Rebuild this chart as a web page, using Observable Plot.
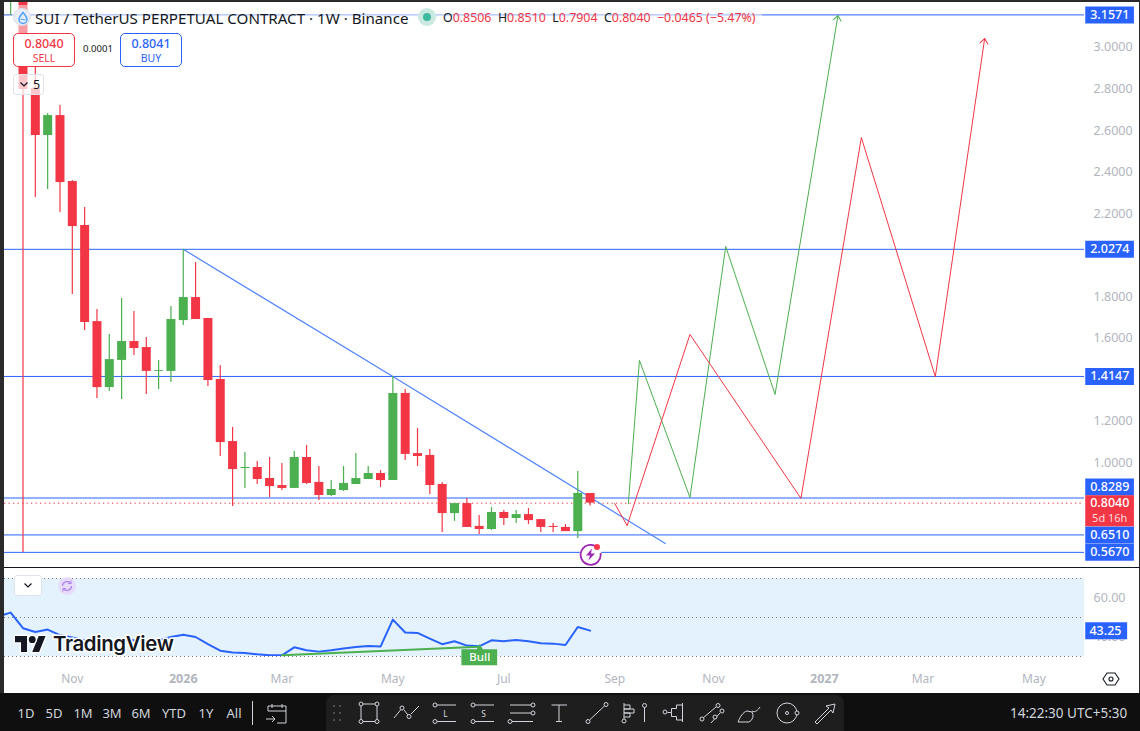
<!DOCTYPE html>
<html>
<head>
<meta charset="utf-8">
<script src="https://cdn.jsdelivr.net/npm/d3@7"></script>
<script src="https://cdn.jsdelivr.net/npm/@observablehq/plot@0.6"></script>
<style>
html,body{margin:0;padding:0;background:#fff;width:1140px;height:731px;overflow:hidden;font-family:"Noto Sans",sans-serif}
#root{position:relative;width:1140px;height:731px;overflow:hidden}
.a{position:absolute;white-space:nowrap}
svg{display:block}
</style>
</head>
<body>
<div id="root"></div>
<script>
// ---- data ----
const firstWeek = -1; // the first candle is the one cut off by the top-left corner
const opens = [3.35,3.60,2.802,2.576,2.672,2.354,2.142,1.679,1.361,1.492,1.583,1.554,1.439,1.439,1.684,1.795,1.694,1.400,1.101,0.971,0.976,0.923,0.889,0.875,1.024,0.904,0.841,0.865,0.894,0.918,0.947,0.913,1.333,1.043,1.034,0.894,0.754,0.802,0.692,0.677,0.759,0.730,0.749,0.725,0.692,0.687,0.667,0.8506];
const highs = [3.90,3.95,2.904,2.682,2.720,2.359,2.229,1.737,1.617,1.790,1.728,1.602,1.492,1.752,2.026,1.964,1.694,1.467,1.169,1.048,1.005,1.024,0.995,1.053,1.082,0.981,0.913,0.981,1.043,0.981,0.961,1.414,1.352,1.164,1.063,0.904,0.802,0.827,0.745,0.783,0.769,0.769,0.778,0.725,0.706,0.701,0.957,0.8510];
const lows = [3.155,0.566,2.277,2.316,2.205,1.810,1.636,1.308,1.342,1.304,1.516,1.328,1.352,1.386,1.660,1.689,1.366,1.029,0.788,0.875,0.894,0.831,0.865,0.875,0.894,0.817,0.836,0.860,0.894,0.918,0.880,0.913,1.010,0.981,0.846,0.663,0.716,0.687,0.653,0.672,0.696,0.706,0.701,0.663,0.663,0.667,0.634,0.7904];
const closes = [3.60,2.798,2.576,2.672,2.349,2.137,1.675,1.361,1.496,1.583,1.549,1.439,1.443,1.689,1.795,1.689,1.395,1.096,0.966,0.976,0.918,0.884,0.875,1.024,0.899,0.841,0.870,0.899,0.923,0.947,0.913,1.333,1.039,1.029,0.889,0.754,0.802,0.687,0.677,0.759,0.730,0.749,0.720,0.687,0.687,0.667,0.851,0.8040];

const levels = [3.1571,2.0274,1.4147,0.8289,0.6510,0.5670];
const lastPrice = 0.8040;
const priceTicks = [3.0,2.8,2.6,2.4,2.2,1.8,1.6,1.2,1.0];

const trendWeeks = [13,30,52.1];
const trendPrices = [2.0274,1.4147,0.610];
const greenPathWeeks = [49.1,50,54.1,57,61,66.1];
const greenPathPrices = [0.802,1.492,0.831,2.041,1.328,3.154];
const redPathWeeks = [48,49,54.1,63.1,68,74,78];
const redPathPrices = [0.802,0.696,1.617,0.827,2.566,1.414,3.043];

const rsiFirstWeek = -2;
const rsiValues = [50.6,52.5,44.5,42.6,43.8,41,39.7,38.3,37.8,37.5,38.3,38.3,37.8,38.3,40,41.2,40,36.3,33,32,31.8,31.1,30.6,30.6,34.7,33.2,32.5,33.2,34.1,34.9,35.4,35.1,48.9,42.3,42.1,39.2,36.3,37.8,35.6,35.2,38.3,37.8,38.5,37.8,36.8,36.6,35.9,45.1,43.25];
const rsiBands = [70,50,30];
const rsiTicks = [60,40];
const rsiLast = 43.25;
const divergenceWeeks = [21,37];
const divergenceValues = [30.6,35.0];

const monthWeeks = [4,21,30,39,48,56,73,82];
const monthLabels = ["Nov","Mar","May","Jul","Sep","Nov","Mar","May"];
const yearWeeks = [13,65];
const yearLabels = ["2026","2027"];

const rangeLabels = ["1D","5D","1M","3M","6M","YTD","1Y","All"];
const rangeCenters = [26,54,83,112,141,174,206,234];

// ---- tables ----
const candles = opens.map((o,k)=>({w:firstWeek+k,o,h:highs[k],l:lows[k],c:closes[k]}));
const up = "#4caf50", down = "#f23645", blue = "#2962ff";
const col = d => d.c >= d.o ? up : down;
const zip = (xs,ys) => xs.map((x,k)=>({x,y:ys[k]}));
const rsi = rsiValues.map((v,k)=>({x:rsiFirstWeek+k,y:v}));

const xDomain = [-1.5,86.1];
const font = '"Noto Sans",sans-serif';
const tagLeft = 86.2, tagRight = 90.15, tagMid = 88.15;
const root = document.getElementById("root");

// open arrow head for the hand-drawn projections
const chevron = (color) => {
  const ns = "http://www.w3.org/2000/svg";
  const m = document.createElementNS(ns,"marker");
  m.setAttribute("viewBox","-6 -6 12 12");
  m.setAttribute("markerWidth",12);
  m.setAttribute("markerHeight",12);
  m.setAttribute("orient","auto");
  m.setAttribute("fill","none");
  m.setAttribute("stroke",color);
  m.setAttribute("stroke-width",1);
  const p = document.createElementNS(ns,"path");
  p.setAttribute("d","M-5,-4L0,0L-5,4");
  m.appendChild(p);
  return m;
};

// ---- price pane ----
const pricePlot = Plot.plot({
  width:1140,height:568,marginLeft:4,marginRight:56,marginTop:0,marginBottom:1,
  style:{background:"transparent",fontFamily:font,fontSize:"12.5px",overflow:"visible"},
  x:{domain:xDomain,axis:null},
  y:{domain:[0.494,3.2265]},
  marks:[
    Plot.axisY({anchor:"right",ticks:priceTicks,tickSize:0,tickPadding:9,tickFormat:d=>d.toFixed(4),label:null,fill:"#b2b5be",fontSize:12.5}),
    Plot.ruleY(levels,{stroke:blue,strokeWidth:1,clip:true}),
    Plot.ruleY([lastPrice],{stroke:down,strokeWidth:1,strokeDasharray:"1.3 3.2",clip:true}),
    Plot.line(zip(trendWeeks,trendPrices),{x:"x",y:"y",stroke:"#4f83ff",strokeWidth:1.2,curve:"linear"}),
    Plot.ruleX(candles,{x:"w",y1:"l",y2:"h",stroke:col,strokeWidth:1.2,clip:true}),
    Plot.ruleX(candles,{x:"w",y1:"o",y2:"c",stroke:col,strokeWidth:9,clip:true}),
    Plot.line(zip(greenPathWeeks,greenPathPrices),{x:"x",y:"y",stroke:up,strokeWidth:1,markerEnd:chevron}),
    Plot.line(zip(redPathWeeks,redPathPrices),{x:"x",y:"y",stroke:down,strokeWidth:1,markerEnd:chevron}),
    // price tags in the right-hand gutter
    Plot.ruleY(levels.filter(v=>v!==0.8289),{x1:()=>tagLeft,x2:()=>tagRight,stroke:blue,strokeWidth:17}),
    Plot.ruleY([0.8289],{x1:()=>tagLeft,x2:()=>tagRight,stroke:blue,strokeWidth:17,dy:-11}),
    Plot.text(levels.filter(v=>v!==0.8289),{x:()=>tagMid,y:d=>d,text:d=>d.toFixed(4),fill:"#fff",fontSize:12.5,fontWeight:500}),
    Plot.text([0.8289],{x:()=>tagMid,y:d=>d,text:d=>d.toFixed(4),fill:"#fff",fontSize:12.5,fontWeight:500,dy:-11}),
    Plot.ruleY([lastPrice],{x1:()=>tagLeft,x2:()=>tagRight,stroke:down,strokeWidth:31,dy:7.5}),
    Plot.text([lastPrice],{x:()=>tagMid,y:d=>d,text:d=>d.toFixed(4),fill:"#fff",fontSize:12.5,fontWeight:500}),
    Plot.text(["5d 16h"],{x:()=>tagMid,y:()=>lastPrice,text:d=>d,fill:"#ffd9dc",fontSize:11,dy:15})
  ]
});
pricePlot.style.position="absolute";pricePlot.style.left="0";pricePlot.style.top="0";
root.appendChild(pricePlot);

// ---- RSI pane and time axis ----
const rsiPlot = Plot.plot({
  width:1140,height:126,marginLeft:4,marginRight:56,marginTop:10,marginBottom:38,
  style:{background:"transparent",fontFamily:font,fontSize:"12px",overflow:"visible"},
  x:{domain:xDomain},
  y:{domain:[30,70]},
  marks:[
    Plot.rect([0],{x1:()=>xDomain[0],x2:()=>xDomain[1],y1:()=>30,y2:()=>70,fill:"#e3f2fd"}),
    Plot.ruleY(rsiBands,{stroke:"#787b86",strokeWidth:1,strokeDasharray:"1 3"}),
    Plot.axisX({anchor:"bottom",ticks:monthWeeks,tickSize:0,tickPadding:17.5,tickFormat:d=>monthLabels[monthWeeks.indexOf(d)],label:null,fill:"#b2b5be",fontSize:12}),
    Plot.axisX({anchor:"bottom",ticks:yearWeeks,tickSize:0,tickPadding:17.5,tickFormat:d=>yearLabels[yearWeeks.indexOf(d)],label:null,fill:"#b2b5be",fontSize:12.5,fontWeight:700}),
    Plot.axisY({anchor:"right",ticks:rsiTicks,tickSize:0,tickPadding:9,tickFormat:d=>d.toFixed(2),label:null,fill:"#b2b5be",fontSize:12.5}),
    Plot.line(rsi,{x:"x",y:"y",stroke:blue,strokeWidth:2,clip:true}),
    Plot.line(zip(divergenceWeeks,divergenceValues),{x:"x",y:"y",stroke:up,strokeWidth:2}),
    Plot.dot([0],{x:()=>37.05,y:()=>34,symbol:"triangle",r:3,fill:up}),
    Plot.ruleY([0],{x1:()=>35.6,x2:()=>38.5,y:()=>29.6,stroke:up,strokeWidth:16}),
    Plot.text(["Bull"],{x:()=>37.05,y:()=>29.6,text:d=>d,fill:"#fff",fontSize:11.5,fontWeight:500}),
    Plot.ruleY([rsiLast],{x1:()=>tagLeft,x2:()=>89.6,stroke:blue,strokeWidth:17}),
    Plot.text([rsiLast],{x:()=>87.8,y:d=>d,text:d=>d.toFixed(2),fill:"#fff",fontSize:12.5,fontWeight:500})
  ]
});
rsiPlot.style.position="absolute";rsiPlot.style.left="0";rsiPlot.style.top="568px";
root.appendChild(rsiPlot);

// ---- chrome around the chart ----
function el(css,html){const d=document.createElement("div");d.className="a";d.style.cssText=css;d.innerHTML=html||"";root.appendChild(d);return d;}
const dark="#2a2a2a";
el(`left:0;top:0;width:4px;height:731px;background:${dark}`);
el(`left:0;top:0;width:1140px;height:1.5px;background:${dark}`);
el(`left:1139px;top:0;width:1px;height:694px;background:${dark}`);
el(`left:4px;top:567px;width:1136px;height:1px;background:#131722`);

// legend row
el(`left:12px;top:5px;width:750px;height:28px;background:rgba(255,255,255,.5)`);
el(`left:13px;top:8px;width:18px;height:18px;border-radius:50%;background:#e8edf3;border:0.5px solid #dde;box-sizing:border-box`,
  `<svg width="18" height="18" viewBox="0 0 18 18"><path d="M9 3.5C11 6 13 8 13 10.5a4 4 0 0 1-8 0C5 8 7 6 9 3.5Z" fill="none" stroke="#4da2ff" stroke-width="1.5"/><path d="M6.5 10.5c2-1 3.500 1 5 0" fill="none" stroke="#4da2ff" stroke-width="1.2"/></svg>`);
el(`left:35px;top:7.500px;font-size:15.15px;line-height:20px;color:#131722`,`SUI / TetherUS PERPETUAL CONTRACT · 1W · Binance`);
el(`left:418px;top:8px;width:18px;height:18px;border-radius:50%;background:#c9e9e1`);
el(`left:423px;top:13px;width:8px;height:8px;border-radius:50%;background:#3fb8a0`);
const ohlc=[["O","0.8506"],["H","0.8510"],["L","0.7904"],["C","0.8040"]];
el(`left:443px;top:9px;font-size:12.4px;line-height:17px;color:${down}`,
  ohlc.map(([k,v])=>`<span style="color:#131722">${k}</span>${v}`).join("&nbsp; ")+"&nbsp; −0.0465 (−5.47%)");

// sell / buy
function tradeBox(x,c,p,l){el(`left:${x}px;top:33px;width:62px;height:34px;box-sizing:border-box;background:#fff;border:1px solid ${c};border-radius:5px;color:${c};text-align:center`,
  `<div style="font-size:12.5px;line-height:14px;margin-top:3px;font-weight:500">${p}</div><div style="font-size:10.500px;line-height:13px;margin-top:1px">${l}</div>`);}
tradeBox(13,down,"0.8040","SELL");
tradeBox(120,blue,"0.8041","BUY");
el(`left:83px;top:42px;font-size:9.6px;line-height:14px;color:#131722`,`0.0001`);
el(`left:13px;top:74px;width:31px;height:21px;box-sizing:border-box;background:rgba(255,255,255,.72);border:1px solid #e0e3eb;border-radius:3px;font-size:12.5px;line-height:19px;color:#131722`,
  `<svg width="10" height="8" style="position:absolute;left:5px;top:6px"><path d="M1.500 1.500L5 5L8.500 1.500" fill="none" stroke="#131722" stroke-width="1.200"/></svg><span style="position:absolute;left:19px;top:0">5</span>`);

// event badge on the lower level
el(`left:579px;top:542px;width:24px;height:24px`,
  `<svg width="24" height="24" viewBox="0 0 24 24"><circle cx="11.500" cy="12.500" r="11" fill="#fff"/><path d="M19 6A10 10 0 1 0 21.500 11" fill="none" stroke="#9c27b0" stroke-width="1.800"/><path d="M13 6.500L7 13.500h4L9.500 18.500L16 11.500h-4Z" fill="#9c27b0"/><circle cx="18" cy="5" r="3" fill="#f7374a"/></svg>`);

// RSI pane controls and logo
el(`left:14px;top:575px;width:28px;height:21px;box-sizing:border-box;background:#fff;border:1px solid #e0e3eb;border-radius:3px`,
  `<svg width="10" height="8" style="position:absolute;left:8px;top:6px"><path d="M1.500 1.500L5 5L8.500 1.500" fill="none" stroke="#131722" stroke-width="1.200"/></svg>`);
el(`left:58px;top:577px;width:18px;height:18px;border-radius:50%;background:#e6dcfa`,
  `<svg width="18" height="18"><path d="M4.500 9a4.500 4.500 0 0 1 8-2.800M13.500 9a4.500 4.500 0 0 1-8 2.800" fill="none" stroke="#b388ea" stroke-width="1.300"/><path d="M13 3.500v3h-3M5 14.500v-3h3" fill="none" stroke="#b388ea" stroke-width="1.100"/></svg>`);
el(`left:15px;top:635px;width:32px;height:18px`,
  `<svg width="31" height="18" viewBox="0 3 36 20" preserveAspectRatio="none" style="overflow:visible"><g fill="#131722" stroke="#fff" stroke-width="3" paint-order="stroke"><path d="M14 22H7V11H0V4h14v18Z"/><path d="M28 22h-8l7.500-18h8L28 22Z"/><circle cx="20" cy="8" r="4"/></g></svg>`);
el(`left:53px;top:630px;font-family:Inter,sans-serif;font-weight:600;font-size:20.4px;line-height:28px;letter-spacing:-.35px;color:#131722;-webkit-text-stroke:3px #fff;paint-order:stroke fill`,`TradingView`);

// settings hexagon on the time axis
el(`left:1102px;top:671px;width:18px;height:16px`,
  `<svg width="18" height="16"><path d="M5 2h8l4 6l-4 6H5L1 8Z" fill="none" stroke="#131722" stroke-width="1.100"/><circle cx="9" cy="8" r="2" fill="none" stroke="#131722" stroke-width="1.100"/></svg>`);

// bottom bar
el(`left:0;top:693px;width:1140px;height:38px;background:#0f0f0f`);
el(`left:326px;top:695px;width:518px;height:36px;background:#1e1e1e;border-radius:8px 8px 0 0`);
rangeLabels.forEach((t,k)=>el(`left:${rangeCenters[k]-25}px;width:50px;top:703px;text-align:center;font-size:13px;line-height:20px;color:#d1d4dc`,t));
el(`left:1010px;top:703px;font-size:13.500px;line-height:20px;color:#d1d4dc`,`14:22:30 UTC+5:30`);

const ic="#d1d4dc";
const c=(x,y,r=2)=>`<circle cx="${x}" cy="${y}" r="${r}" fill="#1e1e1e"/>`;
const l=(a,b,e,f)=>`<line x1="${a}" y1="${b}" x2="${e}" y2="${f}"/>`;
el(`left:0;top:0;width:1140px;height:731px;pointer-events:none`,`<svg width="1140" height="731"><g fill="none" stroke="${ic}" stroke-width="1">
${l(252.5,701,252.5,725)}
<path d="M268 711v-5h18v17h-9M272 704v4M282 704v4M268 711h18M266 719h9m-3-3l3 3l-3 3"/>
${[[334,706],[340,706],[334,713],[340,713],[334,720],[340,720]].map(([a,b])=>`<circle cx="${a}" cy="${b}" r=".8" fill="#888" stroke="none"/>`).join("")}
<rect x="361" y="704" width="16" height="17.500"/>${c(361,704)}${c(377,704)}${c(361,721.500)}${c(377,721.500)}
<path d="M394 718l6.500-8M404 710l4 5M411 714l8-8"/>${c(402,708)}${c(409,716.500)}
${l(437,705,456,705)}${l(437,721.500,456,721.500)}${c(435,705)}${c(435,721.500)}
${l(475,705,494,705)}${l(475,721.500,494,721.500)}${c(473,705)}${c(473,721.500)}
${l(510,705,531,705)}${l(510,713,531,713)}${l(512,721.500,533,721.500)}${c(533,705)}${c(533,713)}${c(510,721.500)}
${l(551.500,705,567,705)}${l(559,705,559,721.500)}${l(556,721.500,562,721.500)}
${l(589.500,720,604.500,706)}${c(588,721.500)}${c(606,704.500)}
${l(624,703,624,719)}${c(624,721)}<path d="M624 705h6v4h-6M624 709h10v4h-10M624 713h6v4h-6"/>
${l(644.500,708,644.500,722)}${c(644.500,705.500)}
${l(682.500,703,682.500,722)}<path d="M682.500 705h-6v3.500h-5v4h-4M682.500 720h-6v-3.500h-5v-4"/>${c(665,712)}
${l(703,718,716,707)}${c(702,719)}${c(718,705.500)}
${l(711,723,720,713)}${c(715,717)}${c(722,711)}
<path d="M738 722h11a7 7 0 0 0 3-10l-5-1c-4 1-7 6-9 11ZM752 711c3 2 6-1 8-4"/>
<circle cx="787" cy="713" r="10"/><circle cx="787" cy="713" r="1.500"/>${c(797,713)}
<path d="M815 722l14-14l-3-2l9-2l-2 9l-2-3l-14 14Z"/>
</g><g fill="${ic}" font-size="8.500" text-anchor="middle" font-family="${font.replace(/"/g,"'")}"><text x="445.500" y="717">L</text><text x="483.500" y="717">S</text></g></svg>`);
</script>
</body>
</html>
